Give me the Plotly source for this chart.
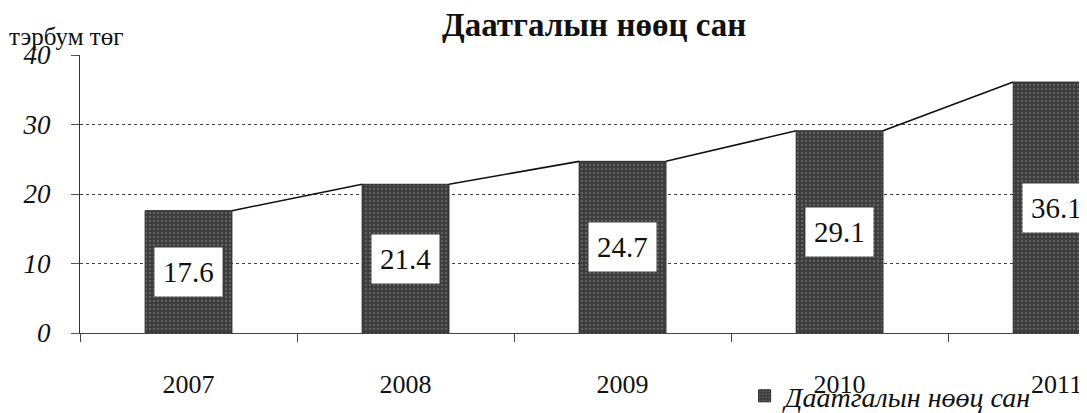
import plotly.graph_objects as go

years = ["2007", "2008", "2009", "2010", "2011"]
values = [17.6, 21.4, 24.7, 29.1, 36.1]
series_name = "Даатгалын нөөц сан"
title_text = "Даатгалын нөөц сан"
unit_text = "тэрбум төг"

bar_width = 0.4
xs = list(range(len(years)))

fig = go.Figure()
fig.add_trace(go.Bar(
    x=xs, y=values, width=bar_width, name=series_name,
    marker=dict(color="#404040", line=dict(color="#2a2a2a", width=1),
                pattern=dict(shape=".", fgcolor="#8c8c8c", bgcolor="#3c3c3c", size=4, solidity=0.25)),
    showlegend=True,
))

# connector lines from top-right of one bar to top-left of the next
cx, cy = [], []
for i in range(len(values) - 1):
    cx += [xs[i] + bar_width / 2, xs[i + 1] - bar_width / 2, None]
    cy += [values[i], values[i + 1], None]
fig.add_trace(go.Scatter(x=cx, y=cy, mode="lines", line=dict(color="#111111", width=1.6),
                         showlegend=False, hoverinfo="skip"))

# value boxes at mid-height of bars
for x, v in zip(xs, values):
    fig.add_annotation(x=x, y=v / 2, text=f"{v}", showarrow=False,
                       font=dict(family="Liberation Serif", size=29, color="#111111"),
                       bgcolor="white", borderpad=8)

fig.add_annotation(xref="paper", yref="paper", x=0.51, y=1.0, yshift=50, text=title_text,
                   showarrow=False, font=dict(family="Liberation Serif", size=33, color="#111111", weight="bold"))
fig.add_annotation(xref="paper", yref="paper", x=-0.072, xanchor="left", y=1.0, yshift=34, text=unit_text,
                   showarrow=False, font=dict(family="Liberation Serif", size=25, color="#111111"))

fig.update_layout(
    width=1079, height=405,
    margin=dict(l=72, r=0, t=47, b=80, autoexpand=False),
    paper_bgcolor="white", plot_bgcolor="white",
    bargap=0.6,
    xaxis=dict(
        range=[-0.5, 4.14], tickvals=xs, ticktext=years, ticks="",
        tickfont=dict(family="Liberation Serif", size=26, color="#111111"),
        ticklabelstandoff=28, automargin=False,
        showgrid=False, zeroline=False,
        showline=True, linecolor="#444444", linewidth=1.2,
        minor=dict(tick0=-0.5, dtick=1, ticks="outside", ticklen=8, tickcolor="#444444", showgrid=False),
    ),
    yaxis=dict(
        range=[0, 40], tickvals=[0, 10, 20, 30, 40], ticks="outside", ticklen=8, tickcolor="#555555",
        tickfont=dict(family="Liberation Serif", size=27, color="#111111", style="italic"),
        ticklabelstandoff=15,
        showgrid=True, gridcolor="#444444", griddash="dot", gridwidth=1, automargin=False,
        zeroline=False, showline=True, linecolor="#333333", linewidth=1.2,
    ),
    legend=dict(x=0.66, xanchor="left", y=-0.227, yanchor="middle", bgcolor="rgba(0,0,0,0)",
                font=dict(family="Liberation Serif", size=28, color="#111111", style="italic"),
                itemwidth=30),
)

fig.write_html("out.html")
